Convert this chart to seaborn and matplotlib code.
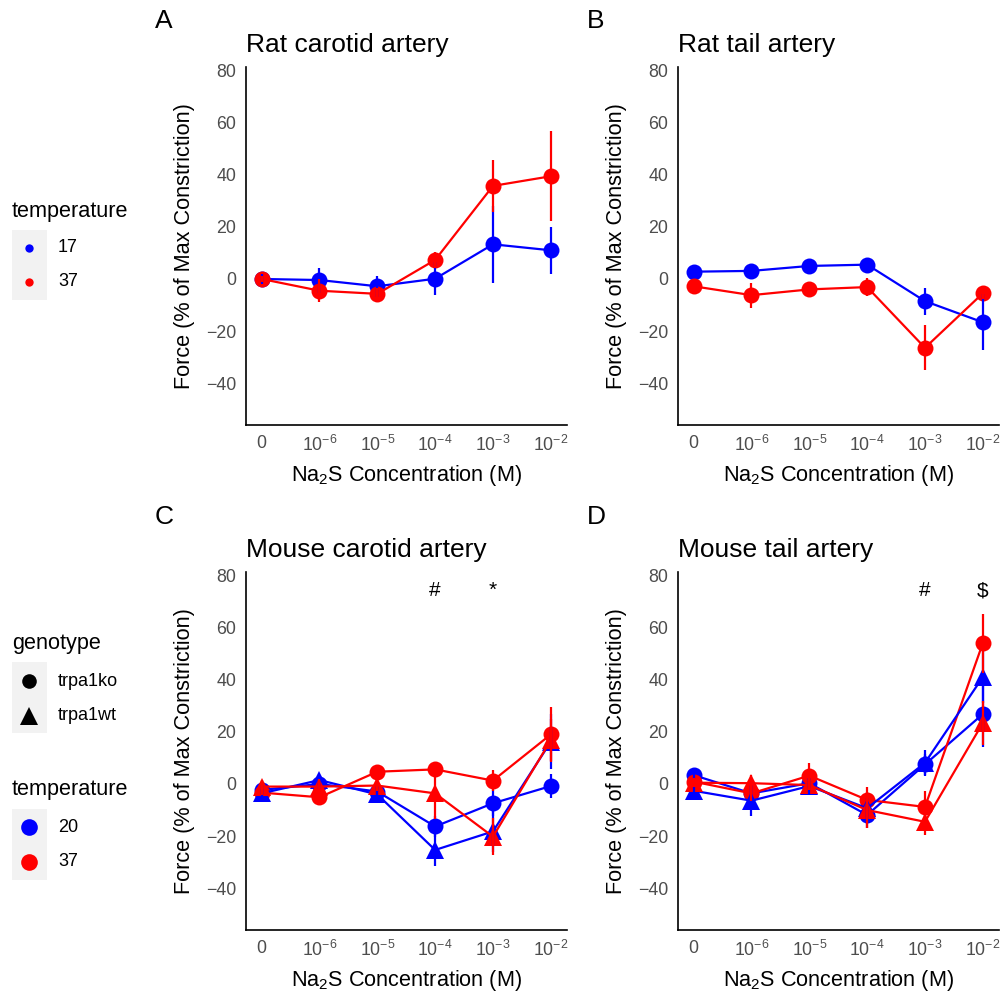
import pandas as pd
import seaborn as sns
import matplotlib.pyplot as plt
from matplotlib.patches import Rectangle

# concentration steps (index on x axis) and their labels
conc = [0, 1, 2, 3, 4, 5]
conc_labels = ['0', '$10^{-6}$', '$10^{-5}$', '$10^{-4}$', '$10^{-3}$', '$10^{-2}$']

# A: rat carotid artery (mean, error) by temperature
ratcar_17 = [0.0, -0.4, -2.8, 0.1, 13.3, 11.0]
ratcar_17_err = [2.0, 4.8, 4.0, 6.3, 14.8, 9.0]
ratcar_37 = [0.0, -4.5, -5.7, 7.3, 35.7, 39.4]
ratcar_37_err = [1.0, 4.5, 2.2, 3.0, 10.1, 17.3]

# B: rat tail artery
rattail_17 = [2.8, 3.1, 5.0, 5.5, -8.5, -16.6]
rattail_17_err = [0.8, 1.0, 1.0, 1.2, 5.2, 10.7]
rattail_37 = [-2.8, -6.2, -4.0, -3.1, -26.4, -5.5]
rattail_37_err = [1.0, 4.8, 1.5, 3.5, 8.6, 2.0]

# C: mouse carotid artery, genotype x temperature
mcar_ko20 = [-2.3, 0.0, -2.9, -16.3, -7.4, -0.8]
mcar_ko20_err = [2.0, 2.0, 2.0, 4.0, 5.0, 4.5]
mcar_wt20 = [-3.6, 1.5, -4.0, -25.3, -18.2, 16.2]
mcar_wt20_err = [1.5, 2.0, 3.0, 6.0, 8.0, 10.5]
mcar_ko37 = [-3.3, -5.1, 4.7, 5.6, 1.3, 19.0]
mcar_ko37_err = [1.0, 1.5, 1.5, 3.0, 4.0, 10.5]
mcar_wt37 = [-1.0, -1.0, -0.6, -3.6, -20.2, 16.8]
mcar_wt37_err = [2.5, 3.0, 2.0, 10.0, 7.0, 8.0]

# D: mouse tail artery
mtail_ko20 = [3.4, -3.6, 0.3, -11.9, 7.5, 26.8]
mtail_ko20_err = [1.5, 3.0, 2.0, 5.0, 4.0, 12.5]
mtail_wt20 = [-2.6, -6.4, -0.8, -9.3, 8.1, 41.0]
mtail_wt20_err = [1.5, 6.0, 3.0, 4.0, 5.0, 10.0]
mtail_ko37 = [0.9, -3.6, 3.2, -6.1, -8.8, 54.0]
mtail_ko37_err = [1.5, 3.0, 5.0, 5.0, 6.0, 11.3]
mtail_wt37 = [0.5, 0.3, -0.4, -10.0, -14.5, 23.4]
mtail_wt37_err = [1.5, 3.0, 2.0, 7.0, 5.0, 8.6]

panel_titles = ['Rat carotid artery', 'Rat tail artery',
                'Mouse carotid artery', 'Mouse tail artery']
panel_letters = ['A', 'B', 'C', 'D']

palette = {'17': '#0000FF', '20': '#0000FF', '37': '#FF0000'}
markers = {'trpa1ko': 'o', 'trpa1wt': '^'}
marker_sizes = {'trpa1ko': 11.5, 'trpa1wt': 13.5}


def make_df(groups):
    rows = []
    for temp, geno, vals, errs in groups:
        for x, v, e in zip(conc, vals, errs):
            rows.append({'conc': x, 'force': v, 'err': e,
                         'temperature': temp, 'genotype': geno})
    return pd.DataFrame(rows)


panels = [
    make_df([('17', 'trpa1ko', ratcar_17, ratcar_17_err),
             ('37', 'trpa1ko', ratcar_37, ratcar_37_err)]),
    make_df([('17', 'trpa1ko', rattail_17, rattail_17_err),
             ('37', 'trpa1ko', rattail_37, rattail_37_err)]),
    make_df([('20', 'trpa1ko', mcar_ko20, mcar_ko20_err),
             ('20', 'trpa1wt', mcar_wt20, mcar_wt20_err),
             ('37', 'trpa1ko', mcar_ko37, mcar_ko37_err),
             ('37', 'trpa1wt', mcar_wt37, mcar_wt37_err)]),
    make_df([('20', 'trpa1ko', mtail_ko20, mtail_ko20_err),
             ('20', 'trpa1wt', mtail_wt20, mtail_wt20_err),
             ('37', 'trpa1ko', mtail_ko37, mtail_ko37_err),
             ('37', 'trpa1wt', mtail_wt37, mtail_wt37_err)]),
]

# significance marks (panel, x, symbol)
sig_marks = [(2, 3, '#'), (2, 4, '*'), (3, 4, '#'), (3, 5, r'\$')]

sns.set_style('white')
plt.rcParams['font.family'] = ['Liberation Sans', 'DejaVu Sans']
plt.rcParams['text.color'] = 'black'
plt.rcParams['axes.labelcolor'] = 'black'
plt.rcParams['mathtext.fontset'] = 'custom'
plt.rcParams['mathtext.rm'] = 'Liberation Sans'
plt.rcParams['mathtext.it'] = 'Liberation Sans:italic'
plt.rcParams['mathtext.default'] = 'regular'

W, H = 1003, 991
fig = plt.figure(figsize=(W / 100, H / 100), dpi=100)

# legend overlay in pixel coordinates
lax = fig.add_axes([0, 0, 1, 1], zorder=-1)
lax.set_xlim(0, W)
lax.set_ylim(H, 0)
lax.axis('off')

boxes = [(246, 67), (678, 67), (246, 572), (678, 572)]
for i, (df, (px, py)) in enumerate(zip(panels, boxes)):
    ax = fig.add_axes([px / W, 1 - (py + 358) / H, 321 / W, 358 / H])
    for geno, sub in df.groupby('genotype'):
        sns.lineplot(data=sub, x='conc', y='force', hue='temperature', style='genotype',
                     palette=palette, markers=markers, dashes=False, estimator=None,
                     sort=False, linewidth=1.6, markersize=marker_sizes[geno],
                     markeredgewidth=0, legend=False, ax=ax)
    ax.vlines(df['conc'], df['force'] - df['err'], df['force'] + df['err'],
              colors=df['temperature'].map(palette), linewidth=1.6)
    ax.set_xlim(-0.27, 5.28)
    ax.set_ylim(-56, 81.3)
    ax.set_xticks(conc)
    ax.set_xticklabels(conc_labels)
    ax.set_yticks([-40, -20, 0, 20, 40, 60, 80])
    ax.tick_params(length=4, width=1, color='#333333', labelcolor='#4D4D4D',
                   labelsize=12.8, pad=3)
    for s in ['top', 'right']:
        ax.spines[s].set_visible(False)
    for s in ['left', 'bottom']:
        ax.spines[s].set_color('black')
        ax.spines[s].set_linewidth(1.2)
    ax.set_xlabel('Na$_2$S Concentration (M)', fontsize=15.6)
    ax.set_ylabel('Force (% of Max Constriction)', fontsize=15.6)
    ax.xaxis.set_label_coords(0.5, -0.105)
    ax.yaxis.set_label_coords(-0.158, 0.5)
    ax.set_title(panel_titles[i], loc='left', fontsize=19, pad=11)
    for p, x, sym in sig_marks:
        if p == i:
            ax.text(x, 72, sym, ha='center', va='baseline', fontsize=15)
    fig.text((px - 91) / W, 1 - (py - 46 if i < 2 else py - 55) / H,
             panel_letters[i], fontsize=19, va='center', ha='left')

# legend for rat panels
lax.text(12, 212, 'temperature', fontsize=15.6, va='center')
lax.add_patch(Rectangle((12, 230), 35, 70, facecolor='#F2F2F2', edgecolor='none'))
for yy, t in [(248, '17'), (282, '37')]:
    lax.plot(29.5, yy, 'o', color=palette[t], markersize=6, mew=0)
    lax.text(58, yy, t, fontsize=13, va='center')

# legend for mouse panels
lax.text(12, 643, 'genotype', fontsize=15.6, va='center')
lax.add_patch(Rectangle((12, 662), 35, 71, facecolor='#F2F2F2', edgecolor='none'))
for yy, g in [(681, 'trpa1ko'), (716, 'trpa1wt')]:
    lax.plot(29.5, yy, markers[g], color='black', markersize=marker_sizes[g] - 1, mew=0)
    lax.text(58, yy, g, fontsize=13, va='center')

lax.text(12, 790, 'temperature', fontsize=15.6, va='center')
lax.add_patch(Rectangle((12, 809), 35, 71, facecolor='#F2F2F2', edgecolor='none'))
for yy, t in [(827, '20'), (862, '37')]:
    lax.plot(29.5, yy, 'o', color=palette[t], markersize=12, mew=0)
    lax.text(58, yy, t, fontsize=13, va='center')

fig.savefig('out.png', dpi=100)
